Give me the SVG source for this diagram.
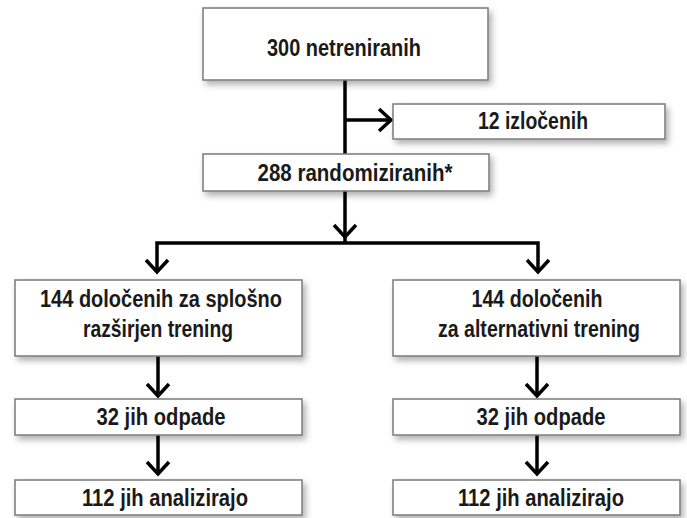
<svg xmlns="http://www.w3.org/2000/svg" xmlns:xlink="http://www.w3.org/1999/xlink" width="687" height="518" viewBox="0 0 687 518">
<style>
.box{fill:#fff;stroke:#7a7a7a;stroke-width:1.5;filter:url(#sh)}
.t{font-family:"Liberation Sans",Arial,sans-serif;font-weight:bold;font-size:24px;fill:#1a1a1a;text-anchor:middle}
.c{fill:none;stroke:#000;stroke-width:3.5;stroke-linecap:butt;stroke-linejoin:miter}
</style>
<defs>
<filter id="sh" x="-10%" y="-20%" width="130%" height="160%">
<feDropShadow dx="3" dy="4" stdDeviation="3" flood-color="#000" flood-opacity="0.3"/>
</filter>
<path id="down" d="M-11,-12 L0,0 L11,-12" class="c"/>
<path id="right" d="M-12,-11 L0,0 L-12,11" class="c"/>
</defs>
<rect width="687" height="518" fill="#fff"/>
<g id="connectors">
<path class="c" d="M345,80 V154"/>
<path class="c" d="M345,120 H390"/>
<use xlink:href="#right" x="391" y="120"/>
<path class="c" d="M345,191 V243"/>
<use xlink:href="#down" x="345" y="237"/>
<path class="c" d="M157,272 V243 H538 V272"/>
<use xlink:href="#down" x="157" y="272"/>
<use xlink:href="#down" x="538" y="272"/>
<path class="c" d="M158,356 V396"/>
<use xlink:href="#down" x="158" y="396"/>
<path class="c" d="M158,435 V474"/>
<use xlink:href="#down" x="158" y="474"/>
<path class="c" d="M537,356 V396"/>
<use xlink:href="#down" x="537" y="396"/>
<path class="c" d="M537,435 V474"/>
<use xlink:href="#down" x="537" y="474"/>
</g>
<g id="n300"><rect class="box" x="203" y="8" width="285" height="72"/><text class="t" x="344" y="56" textLength="154" lengthAdjust="spacingAndGlyphs">300 netreniranih</text></g>
<g id="n12"><rect class="box" x="393" y="104" width="272" height="35"/><text class="t" x="533" y="129" textLength="110" lengthAdjust="spacingAndGlyphs">12 izločenih</text></g>
<g id="n288"><rect class="box" x="203" y="154" width="286" height="37"/><text class="t" x="355" y="181" textLength="195" lengthAdjust="spacingAndGlyphs">288 randomiziranih*</text></g>
<g id="nL144"><rect class="box" x="15" y="280" width="287" height="76"/><text class="t" x="161" y="307" textLength="242" lengthAdjust="spacingAndGlyphs">144 določenih za splošno</text><text class="t" x="158" y="337" textLength="150" lengthAdjust="spacingAndGlyphs">razširjen trening</text></g>
<g id="nR144"><rect class="box" x="393" y="280" width="287" height="76"/><text class="t" x="537" y="307" textLength="131" lengthAdjust="spacingAndGlyphs">144 določenih</text><text class="t" x="539" y="337" textLength="202" lengthAdjust="spacingAndGlyphs">za alternativni trening</text></g>
<g id="nL32"><rect class="box" x="15" y="399" width="287" height="36"/><text class="t" x="161" y="425" textLength="129" lengthAdjust="spacingAndGlyphs">32 jih odpade</text></g>
<g id="nR32"><rect class="box" x="393" y="399" width="287" height="36"/><text class="t" x="541" y="425" textLength="129" lengthAdjust="spacingAndGlyphs">32 jih odpade</text></g>
<g id="nL112"><rect class="box" x="15" y="480" width="287" height="35"/><text class="t" x="165" y="506" textLength="166" lengthAdjust="spacingAndGlyphs">112 jih analizirajo</text></g>
<g id="nR112"><rect class="box" x="393" y="480" width="287" height="35"/><text class="t" x="541" y="506" textLength="166" lengthAdjust="spacingAndGlyphs">112 jih analizirajo</text></g>
</svg>
